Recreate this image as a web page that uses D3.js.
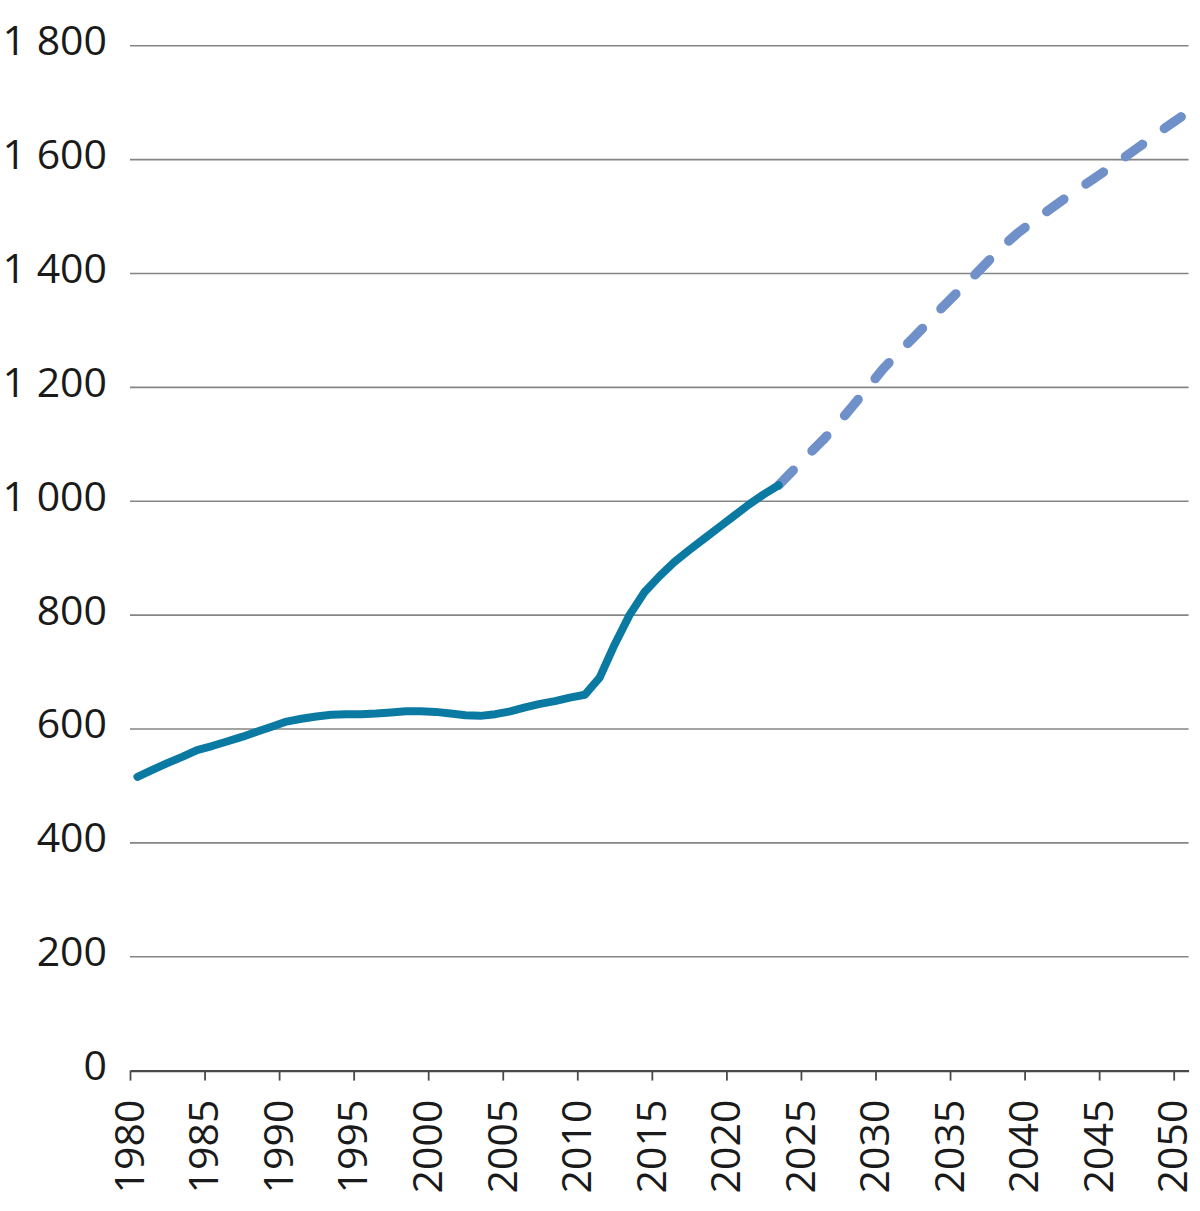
<!DOCTYPE html>
<html>
<head>
<meta charset="utf-8">
<script src="https://cdn.jsdelivr.net/npm/d3@7"></script>
<style>
  html, body { margin: 0; padding: 0; background: #fff; }
  svg { display: block; font-family: 'Open Sans', sans-serif; }
</style>
</head>
<body>
<div id="chart"></div>
<script>
// annual values (plotted at mid-year)
const historyYears = d3.range(1980, 2024);
const historyValues = [
  516, 528, 540, 551, 563, 570, 578, 586, 595, 604,
  613, 618, 622, 625, 626, 626, 627, 629, 631, 631,
  630, 627, 624, 623, 626, 631, 638, 644, 649, 655,
  660, 690, 748, 800, 840, 868, 893, 914, 934, 954,
  974, 994, 1012, 1028
];
const projectionYears = d3.range(2023, 2051);
const projectionValues = [
  1028, 1055, 1082, 1108, 1137, 1168, 1200, 1232, 1260, 1286,
  1313, 1341, 1367, 1393, 1420, 1447, 1470, 1490, 1509, 1528,
  1546, 1564, 1582, 1600, 1619, 1638, 1657, 1675
];
const yTicks = [0, 200, 400, 600, 800, 1000, 1200, 1400, 1600, 1800];
const xTicks = d3.range(1980, 2051, 5);

(function () {
  const WIDTH = 1200;
  const HEIGHT = 1211;
  const HISTORY_COLOR = '#0a7aa2';
  const PROJECTION_COLOR = '#7090ca';
  const FONT_SIZE = 41;

  const locale = d3.formatLocale({ decimal: ',', thousands: '\u00a0', grouping: [3], currency: ['', ''] });
  const fmt = locale.format(',d');

  const svg = d3.select('#chart').append('svg')
    .attr('width', WIDTH)
    .attr('height', HEIGHT);

  const x = d3.scaleLinear().domain([1980, 2051]).range([130, 1188.6]);
  const y = d3.scaleLinear().domain([0, 1800]).range([1070.6, 45.7]);

  function toPoints (years, values) {
    return years.map(function (year, i) {
      return { year: year, value: values[i] };
    });
  }

  // gridlines
  svg.append('g')
    .selectAll('line')
    .data(yTicks.filter(function (d) { return d > 0; }))
    .join('line')
    .attr('x1', x(1980))
    .attr('x2', x(2051))
    .attr('y1', function (d) { return y(d); })
    .attr('y2', function (d) { return y(d); })
    .attr('stroke', '#858585')
    .attr('stroke-width', 1.6);

  // y labels
  svg.append('g')
    .selectAll('text')
    .data(yTicks)
    .join('text')
    .attr('x', 107)
    .attr('y', function (d) { return y(d); })
    .attr('dy', '0.23em')
    .attr('text-anchor', 'end')
    .attr('font-size', FONT_SIZE)
    .attr('fill', '#1a1a1a')
    .text(function (d) { return fmt(d); });

  // x axis
  const xAxis = svg.append('g')
    .attr('transform', 'translate(0,' + y(0) + ')')
    .call(d3.axisBottom(x).tickValues(xTicks).tickSize(10).tickSizeOuter(0).tickFormat(d3.format('d')));
  xAxis.select('.domain')
    .attr('stroke', '#4a4a4a')
    .attr('stroke-width', 2.2);
  xAxis.selectAll('.tick line')
    .attr('stroke', '#4a4a4a')
    .attr('stroke-width', 1.8);
  xAxis.selectAll('.tick text')
    .attr('font-size', FONT_SIZE)
    .attr('font-family', "'Open Sans', sans-serif")
    .attr('fill', '#1a1a1a')
    .attr('text-anchor', 'end')
    .attr('transform', 'rotate(-90)')
    .attr('x', -29)
    .attr('y', -1.5)
    .attr('dy', '0.36em');

  const line = d3.line()
    .x(function (d) { return x(d.year + 0.5); })
    .y(function (d) { return y(d.value); });

  svg.append('path')
    .datum(toPoints(projectionYears, projectionValues))
    .attr('d', line)
    .attr('fill', 'none')
    .attr('stroke', PROJECTION_COLOR)
    .attr('stroke-width', 9.5)
    .attr('stroke-linecap', 'round')
    .attr('stroke-linejoin', 'round')
    .attr('stroke-dasharray', '21,27');

  svg.append('path')
    .datum(toPoints(historyYears, historyValues))
    .attr('d', line)
    .attr('fill', 'none')
    .attr('stroke', HISTORY_COLOR)
    .attr('stroke-width', 8)
    .attr('stroke-linecap', 'round')
    .attr('stroke-linejoin', 'round');
}());
</script>
</body>
</html>
